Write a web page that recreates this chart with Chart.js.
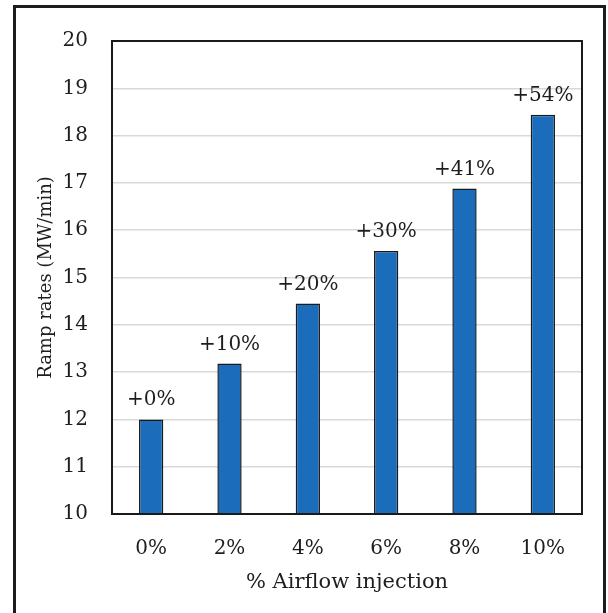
<!DOCTYPE html>
<html>
<head>
<meta charset="utf-8">
<script src="https://cdn.jsdelivr.net/npm/chart.js@4"></script>
<style>
    html, body { margin: 0; padding: 0; background: #fff; overflow: hidden; }
    #wrap { position: relative; width: 608px; height: 613px; }
    #frame {
        position: absolute; left: 13px; top: 5px;
        width: 593px; height: 660px;
        box-sizing: border-box;
        border: 3px solid #1c1c1c;
        pointer-events: none;
    }
    #chart { position: absolute; left: 0; top: 0; }
</style>
</head>
<body>
<div id="wrap">
    <canvas id="chart" width="608" height="613"></canvas>
    <div id="frame"></div>
</div>
<script>
// Chart data
const categories = ['0%', '2%', '4%', '6%', '8%', '10%'];
const rampRates = [12.0, 13.18, 14.45, 15.56, 16.88, 18.44];
const increaseLabels = ['+0%', '+10%', '+20%', '+30%', '+41%', '+54%'];

const fontFamily = '"DejaVu Serif", "Liberation Serif", serif';
const textColor = '#1e1e1e';

// Draws the plot box and the labels above each bar
const plotExtras = {
    id: 'plotExtras',
    afterDatasetsDraw(chart) {
        const ctx = chart.ctx;
        const area = chart.chartArea;
        ctx.save();

        ctx.strokeStyle = '#1a1a1a';
        ctx.lineWidth = 2;
        ctx.strokeRect(area.left, area.top, area.right - area.left, area.bottom - area.top);

        ctx.fillStyle = textColor;
        ctx.font = '20px ' + fontFamily;
        ctx.textAlign = 'center';
        ctx.textBaseline = 'alphabetic';
        chart.getDatasetMeta(0).data.forEach((bar, i) => {
            ctx.fillText(increaseLabels[i], bar.x, bar.y - 14);
        });
        ctx.restore();
    }
};

const ctx = document.getElementById('chart').getContext('2d');
new Chart(ctx, {
    type: 'bar',
    data: {
        labels: categories,
        datasets: [{
            label: 'Ramp rates',
            data: rampRates,
            backgroundColor: '#1b6cbb',
            borderColor: '#1a1a1a',
            borderWidth: 1.5,
            borderSkipped: false,
            categoryPercentage: 1,
            barPercentage: 0.31
        }]
    },
    options: {
        responsive: false,
        animation: false,
        layout: {
            padding: { top: 41, right: 26, bottom: 0, left: 0 }
        },
        plugins: {
            legend: { display: false },
            tooltip: { enabled: false }
        },
        scales: {
            x: {
                grid: { display: false },
                border: { display: false },
                ticks: {
                    padding: 15,
                    color: textColor,
                    font: { family: fontFamily, size: 20 }
                },
                title: {
                    display: true,
                    text: '% Airflow injection',
                    color: textColor,
                    padding: { top: 0, bottom: 18 },
                    font: { family: fontFamily, size: 21 }
                },
                afterFit(scale) {
                    scale.height = 99;
                }
            },
            y: {
                min: 10,
                max: 20,
                ticks: {
                    stepSize: 1,
                    padding: 24,
                    color: textColor,
                    font: { family: fontFamily, size: 20 }
                },
                grid: {
                    color: '#d9d9d9',
                    lineWidth: 1.5,
                    drawTicks: false
                },
                border: { display: false },
                title: {
                    display: true,
                    text: 'Ramp rates (MW/min)',
                    color: textColor,
                    padding: { top: 36, bottom: 0 },
                    font: { family: fontFamily, size: 18 }
                },
                afterFit(scale) {
                    scale.width = 112;
                }
            }
        }
    },
    plugins: [plotExtras]
});
</script>
</body>
</html>
